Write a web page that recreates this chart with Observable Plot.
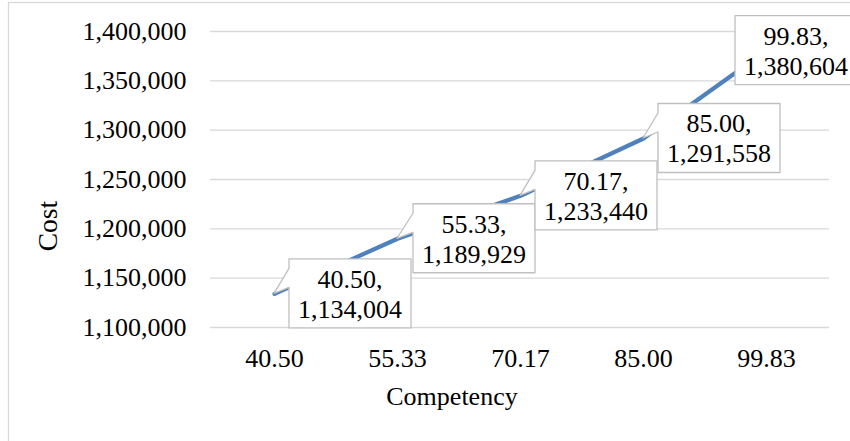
<!DOCTYPE html>
<html>
<head>
<meta charset="utf-8">
<script src="https://cdn.jsdelivr.net/npm/d3@7"></script>
<script src="https://cdn.jsdelivr.net/npm/@observablehq/plot@0.6"></script>
<style>
  html, body { margin: 0; padding: 0; background: #fff; }
  #chart { width: 850px; height: 441px; overflow: hidden; }
</style>
</head>
<body>
<div id="chart"></div>
<script>
// ---- data ----
const competency = ["40.50", "55.33", "70.17", "85.00", "99.83"];
const cost = [1134004, 1189929, 1233440, 1291558, 1380604];
const yTicks = [1100000, 1150000, 1200000, 1250000, 1300000, 1350000, 1400000];
const xTitle = "Competency";
const yTitle = "Cost";

// ---- layout for data-label callouts (pixel offsets from the point) ----
const labelDx = [15, 16, 15, 15, -31];

const data = competency.map((c, i) => ({c, v: cost[i]}));
const FONT = "'Liberation Serif', 'Times New Roman', serif";
const fmt = d3.format(",");

const chart = Plot.plot({
  width: 850,
  height: 441,
  marginLeft: 210,
  marginRight: 21,
  marginTop: 31,
  marginBottom: 114,
  style: {fontFamily: FONT, fontSize: "26px", color: "#000", background: "#fff", overflow: "hidden"},
  x: {type: "point", domain: competency, padding: 0.5, label: null},
  y: {domain: [1100000, 1400000], label: null},
  marks: [
    Plot.gridY(yTicks, {stroke: "#d9d9d9", strokeOpacity: 1, strokeWidth: 1.3}),
    Plot.axisY(yTicks, {tickSize: 0, tickPadding: 24, tickFormat: fmt, fontSize: 26, label: null}),
    Plot.axisX({tickSize: 0, tickPadding: 21, fontSize: 26, label: null}),
    Plot.line(data, {x: "c", y: "v", stroke: "#4f81bd", strokeWidth: 4.2,
      strokeLinecap: "round", strokeLinejoin: "round"})
  ]
});

document.getElementById("chart").appendChild(chart);

const sx = chart.scale("x"), sy = chart.scale("y");
const svg = d3.select(chart);

// ---- axis titles ----
svg.append("text").attr("x", 452).attr("y", 405).attr("text-anchor", "middle")
  .attr("font-family", FONT).attr("font-size", 26).attr("fill", "#000").text(xTitle);
svg.append("text").attr("transform", "translate(57,226) rotate(-90)").attr("text-anchor", "middle")
  .attr("font-family", FONT).attr("font-size", 27.5).attr("fill", "#000").text(yTitle);

// ---- callout data labels, positioned through Plot's scales ----
const boxW = 122, boxH = 69;
const g = svg.append("g").attr("font-family", FONT).attr("font-size", 26);
data.forEach((d, i) => {
  const px = sx.apply(d.c), py = sy.apply(d.v);
  const L = px + labelDx[i], R = L + boxW, T = py - boxH / 2, B = T + boxH;
  let path;
  if (px < L) {
    path = `M${L},${T}H${R}V${B}H${L}V${py - 6}L${px},${py}L${L},${py - 25}Z`;
  } else {
    path = `M${L},${T}H${R}V${B}H${L}Z`;
  }
  g.append("path").attr("d", path).attr("fill", "#fff")
    .attr("stroke", "#bfbfbf").attr("stroke-width", 1.3).attr("stroke-linejoin", "round");
  const cx = (L + R) / 2;
  g.append("text").attr("x", cx).attr("y", T + 29).attr("text-anchor", "middle")
    .attr("fill", "#000").text(d.c + ",");
  g.append("text").attr("x", cx).attr("y", T + 59).attr("text-anchor", "middle")
    .attr("fill", "#000").text(fmt(d.v));
});

// outer chart border
svg.append("rect").attr("x", 8.5).attr("y", 2.5).attr("width", 1000).attr("height", 1000)
  .attr("fill", "none").attr("stroke", "#d9d9d9").attr("stroke-width", 1.3);
</script>
</body>
</html>
